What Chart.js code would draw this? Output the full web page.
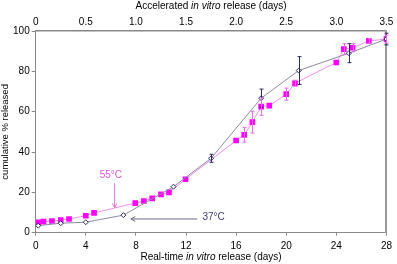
<!DOCTYPE html>
<html>
<head>
<meta charset="utf-8">
<script src="https://cdn.jsdelivr.net/npm/chart.js@4.4.1/dist/chart.umd.min.js"></script>
<style>
  html, body { margin: 0; padding: 0; background: #fff; }
  #wrap { width: 397px; height: 264px; }
</style>
</head>
<body>
<div id="wrap"><canvas id="release-chart" width="397" height="264"></canvas></div>
<script>
// 55°C accelerated release (plotted on the real-time axis, days)
const hotDays = [0.2, 0.63, 1.3, 2.0, 2.66, 4.0, 4.66, 7.95, 8.64, 9.3, 10.0, 10.64, 11.96, 16.0, 16.65, 17.3, 18.0, 18.65, 20.0, 20.7, 24.0, 24.6, 25.3, 26.6, 28.0];
const hotValues = [5.2, 5.5, 5.8, 6.2, 6.8, 8.4, 9.8, 14.7, 15.7, 17.0, 19.0, 20.0, 26.5, 45.7, 48.5, 54.8, 62.5, 63.0, 68.7, 74.1, 84.4, 91.0, 91.7, 95.1, 96.0];
const hotErrors = [0.5, 0.5, 0.5, 0.5, 0.5, 0.5, 0.5, 0.5, 0.5, 0.5, 0.5, 0.5, 1.0, 1.0, 3.6, 5.4, 4.3, 1.0, 3.0, 1.5, 0.8, 2.7, 2.0, 1.2, 2.0];

// 37°C real-time release
const coolDays = [0.2, 2.0, 4.0, 7.0, 11.0, 14.0, 18.0, 21.0, 25.0, 28.0];
const coolValues = [3.5, 4.7, 5.2, 8.7, 22.8, 36.9, 66.7, 80.4, 89.0, 96.0];
const coolErrors = [0.3, 0.3, 0.4, 0.5, 0.8, 2.0, 4.5, 6.9, 4.7, 2.9];

const realTicks = [0, 4, 8, 12, 16, 20, 24, 28];
const accelTicks = [0, 0.5, 1, 1.5, 2, 2.5, 3, 3.5];
const yTicks = [0, 20, 40, 60, 80, 100];

// axis titles, split so "in vitro" can be set in italics
const bottomTitle = [['Real-time ', false], ['in vitro', true], [' release (days)', false]];
const topTitle = [['Accelerated ', false], ['in vitro', true], [' release (days)', false]];

const labels = [
    { text: '55°C', x: 6.0, y: 28.3, color: '#dd55dd' },
    { text: '37°C', x: 14.2, y: 7.9, color: '#3a3a6e' }
];
const arrows = [
    { from: [6.3, 24.6], to: [6.3, 12.4], color: '#dd77dd' },
    { from: [12.9, 6.8], to: [7.6, 6.8], color: '#6a6a80' }
];

const family = "'Liberation Sans', Arial, sans-serif";
const font = { family: family, size: 10 };

const errorBars = {
    id: 'errorBars',
    afterDatasetsDraw(chart) {
        const { ctx, scales: { x, y } } = chart;
        const sets = [
            { days: coolDays, vals: coolValues, errs: coolErrors, color: '#2a2a5c' },
            { days: hotDays, vals: hotValues, errs: hotErrors, color: '#e868e8' }
        ];
        ctx.save();
        ctx.lineWidth = 1;
        sets.forEach(s => {
            ctx.strokeStyle = s.color;
            s.days.forEach((d, i) => {
                if (s.errs[i] < 1.2) return;
                const px = Math.round(x.getPixelForValue(d)) + 0.5;
                const top = y.getPixelForValue(s.vals[i] + s.errs[i]);
                const bot = y.getPixelForValue(s.vals[i] - s.errs[i]);
                ctx.beginPath();
                ctx.moveTo(px, top); ctx.lineTo(px, bot);
                ctx.moveTo(px - 2, top); ctx.lineTo(px + 2, top);
                ctx.moveTo(px - 2, bot); ctx.lineTo(px + 2, bot);
                ctx.stroke();
            });
        });
        ctx.restore();
    }
};

function drawMixed(ctx, parts, cx, cy) {
    const fontFor = it => (it ? 'italic ' : '') + '10px ' + family;
    let total = 0;
    parts.forEach(p => { ctx.font = fontFor(p[1]); total += ctx.measureText(p[0]).width; });
    let xpos = cx - total / 2;
    ctx.textAlign = 'left';
    ctx.textBaseline = 'middle';
    parts.forEach(p => {
        ctx.font = fontFor(p[1]);
        ctx.fillText(p[0], xpos, cy);
        xpos += ctx.measureText(p[0]).width;
    });
}

const notes = {
    id: 'notes',
    afterDraw(chart) {
        const { ctx, chartArea, scales: { x, y } } = chart;
        ctx.save();
        const mid = (chartArea.left + chartArea.right) / 2;
        ctx.fillStyle = '#000';
        drawMixed(ctx, bottomTitle, mid, 257);
        drawMixed(ctx, topTitle, mid, 6);

        ctx.font = '10px ' + family;
        ctx.textAlign = 'center';
        ctx.textBaseline = 'middle';
        labels.forEach(l => {
            ctx.fillStyle = l.color;
            ctx.fillText(l.text, x.getPixelForValue(l.x), y.getPixelForValue(l.y));
        });
        arrows.forEach(a => {
            const x1 = x.getPixelForValue(a.from[0]), y1 = y.getPixelForValue(a.from[1]);
            const x2 = x.getPixelForValue(a.to[0]), y2 = y.getPixelForValue(a.to[1]);
            const ang = Math.atan2(y2 - y1, x2 - x1);
            ctx.strokeStyle = a.color;
            ctx.lineWidth = 1;
            ctx.beginPath();
            ctx.moveTo(x1, y1); ctx.lineTo(x2, y2);
            ctx.moveTo(x2 - 5 * Math.cos(ang - 0.5), y2 - 5 * Math.sin(ang - 0.5));
            ctx.lineTo(x2, y2);
            ctx.lineTo(x2 - 5 * Math.cos(ang + 0.5), y2 - 5 * Math.sin(ang + 0.5));
            ctx.stroke();
        });
        ctx.restore();
    }
};

const ctx = document.getElementById('release-chart').getContext('2d');
new Chart(ctx, {
    type: 'scatter',
    data: {
        datasets: [
            {
                label: '37°C',
                data: coolDays.map((d, i) => ({ x: d, y: coolValues[i] })),
                showLine: true,
                borderColor: '#8a8a9c',
                borderWidth: 1,
                pointStyle: 'rectRot',
                pointRadius: 2.5,
                pointBackgroundColor: '#ffffff',
                pointBorderColor: '#2a2a5c',
                pointBorderWidth: 1
            },
            {
                label: '55°C',
                data: hotDays.map((d, i) => ({ x: d, y: hotValues[i] })),
                showLine: true,
                borderColor: '#f090f0',
                borderWidth: 1,
                pointStyle: 'rect',
                pointRadius: 4,
                pointBackgroundColor: '#ff00ff',
                pointBorderColor: '#ff00ff',
                pointBorderWidth: 0
            }
        ]
    },
    options: {
        responsive: false,
        animation: false,
        layout: { padding: 0 },
        plugins: { legend: { display: false }, tooltip: { enabled: false } },
        scales: {
            x: {
                type: 'linear', position: 'bottom', min: 0, max: 28,
                afterBuildTicks: axis => { axis.ticks = realTicks.map(v => ({ value: v })); },
                afterFit: axis => { axis.height = 31.3; },
                ticks: { color: '#000', font: font, padding: 5, maxRotation: 0 },
                grid: { drawOnChartArea: false, tickLength: 3, color: '#888' },
                border: { color: '#888', width: 1 }
            },
            x2: {
                type: 'linear', position: 'top', min: 0, max: 3.5,
                afterBuildTicks: axis => { axis.ticks = accelTicks.map(v => ({ value: v })); },
                afterFit: axis => { axis.height = 31; },
                ticks: { color: '#000', font: font, padding: 3, maxRotation: 0 },
                grid: { drawOnChartArea: false, drawTicks: false, color: '#888' },
                border: { color: '#888', width: 1.5 }
            },
            y: {
                type: 'linear', position: 'left', min: 0, max: 100,
                afterBuildTicks: axis => { axis.ticks = yTicks.map(v => ({ value: v })); },
                afterFit: axis => { axis.width = 35.7; },
                ticks: { color: '#000', font: font, padding: 2 },
                grid: { drawOnChartArea: false, tickLength: 4, color: '#888' },
                border: { color: '#888', width: 1 },
                title: {
                    display: true, color: '#000', font: { family: family, size: 9.5 },
                    padding: { top: 0, bottom: 0 },
                    text: 'cumulative % released'
                }
            },
            y2: {
                type: 'linear', position: 'right', min: 0, max: 100,
                afterFit: axis => { axis.width = 7; },
                ticks: { display: false },
                grid: { display: false },
                border: { display: true, color: '#999', width: 2 }
            }
        }
    },
    plugins: [errorBars, notes]
});
</script>
</body>
</html>
